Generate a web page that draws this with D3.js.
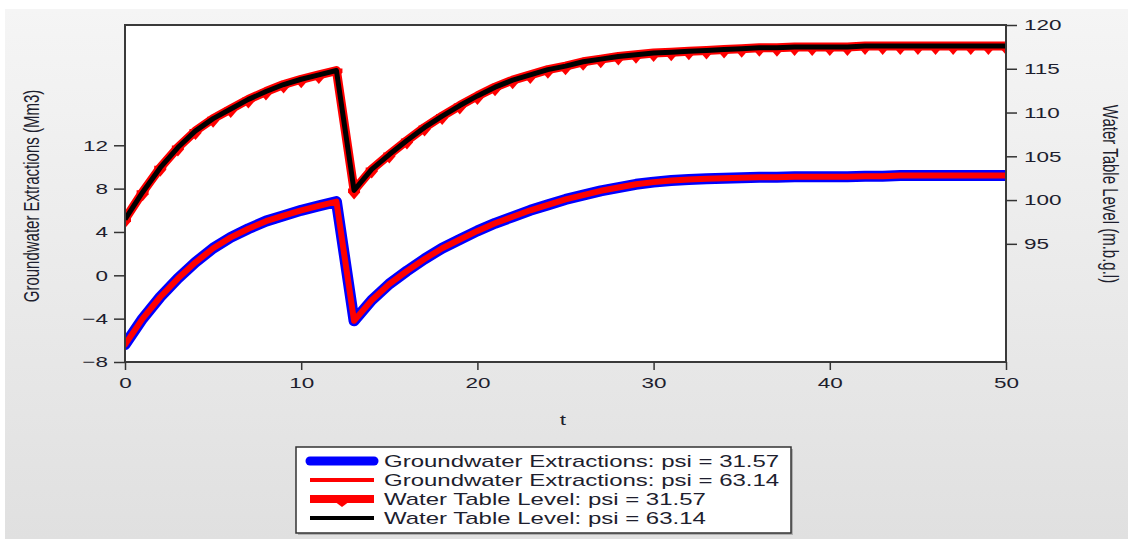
<!DOCTYPE html>
<html>
<head>
<meta charset="utf-8">
<script src="https://cdnjs.cloudflare.com/ajax/libs/d3/7.8.5/d3.min.js"></script>
<style>
  html, body { margin: 0; padding: 0; background: #fff; }
  svg { display: block; }
  text { font-family: "Liberation Sans", Arial, sans-serif; }
</style>
</head>
<body>
<svg id="chart" width="1128" height="539"></svg>
<script>
// ---------- data ----------
const tValues = [0,1,2,3,4,5,6,7,8,9,10,11,12,13,14,15,16,17,18,19,20,21,22,23,24,25,
  26,27,28,29,30,31,32,33,34,35,36,37,38,39,40,41,42,43,44,45,46,47,48,49,50];

const extractionsPsi3157 = [-6.4,-4.0,-2.0,-0.3,1.2,2.5,3.5,4.3,5.0,5.5,6.0,6.4,6.8,
  -4.2,-2.3,-0.8,0.4,1.5,2.5,3.3,4.1,4.8,5.4,6.0,6.5,7.0,7.4,7.8,8.1,8.4,8.6,8.75,8.85,
  8.9,8.95,9.0,9.05,9.05,9.1,9.1,9.1,9.1,9.15,9.15,9.2,9.2,9.2,9.2,9.2,9.2,9.2];

const extractionsPsi6314 = [-6.4,-4.0,-2.0,-0.3,1.2,2.5,3.5,4.3,5.0,5.5,6.0,6.4,6.8,
  -4.2,-2.3,-0.8,0.4,1.5,2.5,3.3,4.1,4.8,5.4,6.0,6.5,7.0,7.4,7.8,8.1,8.4,8.6,8.75,8.85,
  8.9,8.95,9.0,9.05,9.05,9.1,9.1,9.1,9.1,9.15,9.15,9.2,9.2,9.2,9.2,9.2,9.2,9.2];

const waterTablePsi3157 = [97.8,100.9,103.7,106.0,107.9,109.3,110.4,111.5,112.4,113.2,113.8,114.3,114.8,
  101.1,103.5,105.2,106.8,108.3,109.6,110.8,111.9,112.9,113.7,114.3,114.9,115.3,115.8,116.1,116.4,
  116.6,116.8,116.9,117.0,117.1,117.2,117.3,117.4,117.4,117.5,117.5,117.5,117.5,117.6,117.6,117.6,
  117.6,117.6,117.6,117.6,117.6,117.6];

const waterTablePsi6314 = [97.8,100.9,103.7,106.0,107.9,109.3,110.4,111.5,112.4,113.2,113.8,114.3,114.8,
  101.1,103.5,105.2,106.8,108.3,109.6,110.8,111.9,112.9,113.7,114.3,114.9,115.3,115.8,116.1,116.4,
  116.6,116.8,116.9,117.0,117.1,117.2,117.3,117.4,117.4,117.5,117.5,117.5,117.5,117.6,117.6,117.6,
  117.6,117.6,117.6,117.6,117.6,117.6];

const xTicks = [0,10,20,30,40,50];
const leftTicks = [-8,-4,0,4,8,12];
const rightTicks = [95,100,105,110,115,120];

const legendLabels = [
  "Groundwater Extractions: psi = 31.57",
  "Groundwater Extractions: psi = 63.14",
  "Water Table Level: psi = 31.57",
  "Water Table Level: psi = 63.14"
];

// ---------- layout ----------
const SX = 1.5; // horizontal stretch of the reference text
const TXT = "#1e1e2e";
const svg = d3.select("#chart");
const defs = svg.append("defs");
const grad = defs.append("linearGradient").attr("id", "bg").attr("x1", 0).attr("y1", 0).attr("x2", 0).attr("y2", 1);
grad.append("stop").attr("offset", "0%").attr("stop-color", "#f5f5f5");
grad.append("stop").attr("offset", "100%").attr("stop-color", "#e0e0e0");

svg.append("rect").attr("x", 0).attr("y", 0).attr("width", 1128).attr("height", 539).attr("fill", "#ffffff");
svg.append("rect").attr("x", 5).attr("y", 9).attr("width", 1123).attr("height", 530).attr("fill", "url(#bg)");

const L = 125, R = 1006, T = 25, B = 362;
const x = d3.scaleLinear().domain([0, 50]).range([L, R]);
const yL = d3.scaleLinear().domain([-8, 23.1]).range([B, T]);
const yR = d3.scaleLinear().domain([81.5, 120]).range([B, T]);

svg.append("rect").attr("x", L).attr("y", T).attr("width", R - L).attr("height", B - T)
  .attr("fill", "#ffffff");

const clip = defs.append("clipPath").attr("id", "plotclip");
clip.append("rect").attr("x", L).attr("y", T - 6).attr("width", R - L).attr("height", B - T + 12);

const plot = svg.append("g").attr("clip-path", "url(#plotclip)");

const lineL = d3.line().x((d, i) => x(tValues[i])).y(d => yL(d));
const lineR = d3.line().x((d, i) => x(tValues[i])).y(d => yR(d));

// Groundwater extractions
plot.append("path").datum(extractionsPsi3157).attr("d", lineL)
  .attr("fill", "none").attr("stroke", "#0000ff").attr("stroke-width", 11)
  .attr("stroke-linejoin", "round").attr("stroke-linecap", "round");
plot.append("path").datum(extractionsPsi6314).attr("d", lineL)
  .attr("fill", "none").attr("stroke", "#ff0000").attr("stroke-width", 6)
  .attr("stroke-linejoin", "round").attr("stroke-linecap", "round");

// Water table level
plot.append("path").datum(waterTablePsi3157).attr("d", lineR)
  .attr("fill", "none").attr("stroke", "#ff0000").attr("stroke-width", 9)
  .attr("stroke-linejoin", "round");
const marker = "M-6,-2L6,-2L6,2L0,9L-6,2Z";
plot.selectAll("path.mk").data(waterTablePsi3157).join("path").attr("class", "mk")
  .attr("transform", (d, i) => `translate(${x(tValues[i])},${yR(d)})`)
  .attr("d", marker).attr("fill", "#ff0000");
plot.append("path").datum(waterTablePsi6314).attr("d", lineR)
  .attr("fill", "none").attr("stroke", "#000000").attr("stroke-width", 5)
  .attr("stroke-linejoin", "round");

// frame
svg.append("rect").attr("x", L).attr("y", T).attr("width", R - L).attr("height", B - T)
  .attr("fill", "none").attr("stroke", "#3a3a3a").attr("stroke-width", 2);

// ---------- axes ----------
function styleAxis(g) {
  g.select(".domain").remove();
  g.selectAll(".tick line").attr("stroke", "#333").attr("stroke-width", 1.5);
  g.selectAll(".tick text").attr("fill", TXT).attr("font-size", 15)
    .attr("font-family", "'Liberation Sans', Arial, sans-serif");
}

const gx = svg.append("g").attr("transform", `translate(0,${B})`)
  .call(d3.axisBottom(x).tickValues(xTicks).tickSize(8).tickPadding(7).tickFormat(d3.format("d")));
styleAxis(gx);
gx.selectAll(".tick text").attr("transform", `scale(${SX},1)`);

const gl = svg.append("g").attr("transform", `translate(${L},0)`)
  .call(d3.axisLeft(yL).tickValues(leftTicks).tickSize(11).tickFormat(d3.format("d")));
styleAxis(gl);
gl.selectAll(".tick text").attr("x", -17 / SX).attr("transform", `scale(${SX},1)`);

const gr = svg.append("g").attr("transform", `translate(${R},0)`)
  .call(d3.axisRight(yR).tickValues(rightTicks).tickSize(11).tickFormat(d3.format("d")));
styleAxis(gr);
gr.selectAll(".tick text").attr("x", 18 / SX).attr("transform", `scale(${SX},1)`);

// axis titles
svg.append("text")
  .attr("transform", `translate(31,196) scale(${SX},1) rotate(-90)`)
  .attr("text-anchor", "middle").attr("dy", "0.35em")
  .attr("font-size", 15).attr("fill", TXT)
  .text("Groundwater Extractions (Mm3)");

svg.append("text")
  .attr("transform", `translate(1111,194) scale(${SX},1) rotate(90)`)
  .attr("text-anchor", "middle").attr("dy", "0.35em")
  .attr("font-size", 15).attr("fill", TXT)
  .text("Water Table Level (m.b.g.l)");

svg.append("text")
  .attr("transform", `translate(563,425) scale(${SX},1)`)
  .attr("text-anchor", "middle")
  .attr("font-size", 15).attr("fill", TXT)
  .text("t");

// ---------- legend ----------
const lg = svg.append("g");
lg.append("rect").attr("x", 298).attr("y", 449).attr("width", 495).attr("height", 86).attr("fill", "#b0b0b0");
lg.append("rect").attr("x", 296).attr("y", 447).attr("width", 495).attr("height", 86)
  .attr("fill", "#ffffff").attr("stroke", "#333").attr("stroke-width", 1.5);

const rowY = d3.scalePoint().domain(legendLabels).range([461, 518]);
const sw = [
  {color: "#0000ff", w: 9, cap: "round"},
  {color: "#ff0000", w: 4, cap: "butt"},
  {color: "#ff0000", w: 8, cap: "butt", mk: true},
  {color: "#000000", w: 4, cap: "butt"}
];
legendLabels.forEach((lab, i) => {
  const yy = rowY(lab);
  lg.append("line").attr("x1", 310).attr("x2", 374).attr("y1", yy).attr("y2", yy)
    .attr("stroke", sw[i].color).attr("stroke-width", sw[i].w).attr("stroke-linecap", sw[i].cap);
  if (sw[i].mk) {
    lg.append("path").attr("transform", `translate(342,${yy})`).attr("d", "M-8,-3L8,-3L8,2L0,8L-8,2Z").attr("fill", "#ff0000");
  }
  lg.append("text").attr("transform", `translate(384,${yy}) scale(${SX},1)`)
    .attr("dy", "0.35em").attr("font-size", 16).attr("fill", TXT).text(lab);
});
</script>
</body>
</html>
